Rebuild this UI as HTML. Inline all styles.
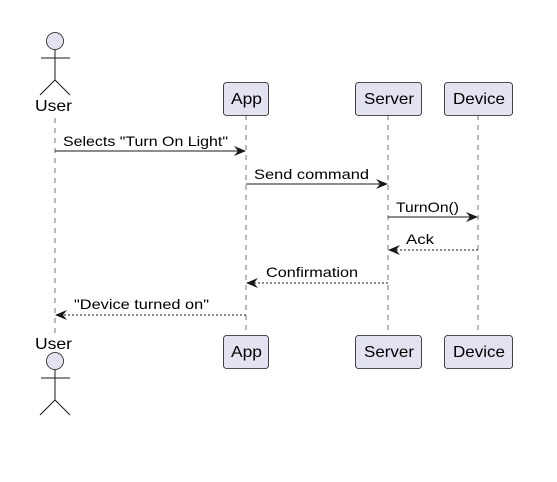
<!DOCTYPE html>
<html><head><style>body{margin:0;background:#fff}svg{display:block}text{font-family:"Liberation Sans",sans-serif;fill:#000}</style></head><body>
<svg width="557" height="482" xmlns="http://www.w3.org/2000/svg">
<defs>
<marker id="a" viewBox="0 0 12 10" refX="11" refY="5" markerWidth="12" markerHeight="10" markerUnits="userSpaceOnUse" orient="auto"><path d="M0,0 L12,5 L0,10 L4,5 Z" fill="#181818"/></marker>
</defs>
<g stroke="#181818" stroke-width="1" stroke-dasharray="5,5" opacity="0.6">
<line x1="55" y1="118" x2="55" y2="335"/>
<line x1="246" y1="115" x2="246" y2="335"/>
<line x1="388" y1="115" x2="388" y2="335"/>
<line x1="478" y1="115" x2="478" y2="335"/>
</g>
<g fill="#E2E2F0" stroke="#181818" stroke-width="0.8">
<circle cx="55" cy="41" r="8.5"/>
<circle cx="55" cy="361" r="8.5"/>
</g>
<g stroke="#181818" stroke-width="1" fill="none">
<path d="M55,49.5 V80 M41,58 H70 M40,95 L55,80 L70,95"/>
<path d="M55,369.5 V400 M41,378 H70 M40,415 L55,400 L70,415"/>
</g>
<g fill="#E2E2F0" stroke="#181818" stroke-width="0.8">
<rect x="223.5" y="82.5" width="45" height="33" rx="3"/>
<rect x="355.5" y="82.5" width="66" height="33" rx="3"/>
<rect x="444.5" y="82.5" width="68" height="33" rx="3"/>
<rect x="223.5" y="335.5" width="45" height="33" rx="3"/>
<rect x="355.5" y="335.5" width="66" height="33" rx="3"/>
<rect x="444.5" y="335.5" width="68" height="33" rx="3"/>
</g>
<g font-size="16" lengthAdjust="spacingAndGlyphs">
<text x="35" y="111" textLength="37" lengthAdjust="spacingAndGlyphs">User</text>
<text x="35" y="349" textLength="37" lengthAdjust="spacingAndGlyphs">User</text>
<text x="231" y="104" textLength="31" lengthAdjust="spacingAndGlyphs">App</text>
<text x="364" y="104" textLength="50" lengthAdjust="spacingAndGlyphs">Server</text>
<text x="453" y="104" textLength="52" lengthAdjust="spacingAndGlyphs">Device</text>
<text x="231" y="357" textLength="31" lengthAdjust="spacingAndGlyphs">App</text>
<text x="364" y="357" textLength="50" lengthAdjust="spacingAndGlyphs">Server</text>
<text x="453" y="357" textLength="52" lengthAdjust="spacingAndGlyphs">Device</text>
</g>
<g stroke="#181818" stroke-width="1">
<line x1="55" y1="151" x2="245" y2="151" marker-end="url(#a)"/>
<line x1="246" y1="184" x2="387" y2="184" marker-end="url(#a)"/>
<line x1="388" y1="217" x2="477" y2="217" marker-end="url(#a)"/>
<line x1="478" y1="250" x2="389" y2="250" stroke-dasharray="2,2" marker-end="url(#a)"/>
<line x1="388" y1="283" x2="247" y2="283" stroke-dasharray="2,2" marker-end="url(#a)"/>
<line x1="246" y1="315" x2="56" y2="315" stroke-dasharray="2,2" marker-end="url(#a)"/>
</g>
<g font-size="14">
<text x="63" y="146" textLength="165" lengthAdjust="spacingAndGlyphs">Selects "Turn On Light"</text>
<text x="254" y="179" textLength="115" lengthAdjust="spacingAndGlyphs">Send command</text>
<text x="396" y="212" textLength="63" lengthAdjust="spacingAndGlyphs">TurnOn()</text>
<text x="406" y="244" textLength="28" lengthAdjust="spacingAndGlyphs">Ack</text>
<text x="266" y="277" textLength="92" lengthAdjust="spacingAndGlyphs">Confirmation</text>
<text x="74" y="309" textLength="135" lengthAdjust="spacingAndGlyphs">"Device turned on"</text>
</g>
</svg>
</body></html>
